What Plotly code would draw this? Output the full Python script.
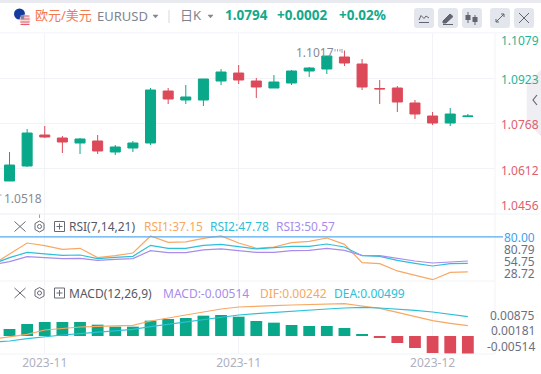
import plotly.graph_objects as go
from plotly.subplots import make_subplots

W, H = 541, 374
GREEN, RED = "#0aa88a", "#dc4a5a"
GRID = "#f2f3f7"
FONT = "Noto Sans, Noto Sans CJK SC, sans-serif"

# ---------- data ----------
idx = list(range(27))
idx_ext = [-1] + idx
open_ = [1.05699,1.06216,1.07285,1.07182,1.07010,1.07079,1.06699,1.06837,1.07010,1.08804,1.08493,1.08493,1.09149,1.09424,1.09149,1.08907,1.09080,1.09494,1.09563,1.09977,1.09735,1.08890,1.08907,1.08390,1.07941,1.07700,1.07920]
high  = [1.06699,1.07492,1.07596,1.07251,1.07182,1.07285,1.06941,1.07079,1.08907,1.08907,1.09011,1.09218,1.09563,1.09701,1.09252,1.09355,1.09528,1.09632,1.10011,1.10200,1.09908,1.09183,1.08976,1.08493,1.08079,1.08217,1.08010]
low   = [1.05699,1.06182,1.07182,1.06665,1.06630,1.06630,1.06595,1.06699,1.06941,1.08355,1.08355,1.08286,1.09011,1.09045,1.08562,1.08907,1.09011,1.09286,1.09390,1.09666,1.08838,1.08355,1.08079,1.07838,1.07631,1.07596,1.07920]
close = [1.06250,1.07354,1.07216,1.07044,1.07148,1.06734,1.06872,1.07010,1.08838,1.08528,1.08597,1.09218,1.09459,1.09183,1.08942,1.09114,1.09494,1.09597,1.10011,1.09770,1.08942,1.08876,1.08424,1.08010,1.07700,1.08010,1.07940]

rsi1 = [45.7,58.7,72.6,69.4,64.9,66.1,54.7,57.1,60.4,81.2,73.4,73.9,78.3,81.2,72.6,66.1,67.7,73.0,74.7,78.7,71.0,48.6,47.3,38.4,32.6,27.7,36.7,37.15]
rsi2 = [46.5,54.7,61.2,59.2,57.5,57.9,53.5,55.1,56.3,69.8,66.1,66.1,69.8,71.0,67.7,65.3,66.9,68.5,68.5,71.4,67.7,57.1,56.3,51.4,47.7,44.5,47.3,47.78]
rsi3 = [45.7,49.8,55.9,54.7,53.5,53.9,51.4,52.6,53.5,63.3,60.8,60.8,64.1,65.3,62.8,61.2,61.2,63.3,63.6,66.1,63.6,57.5,57.1,53.5,50.6,48.1,49.8,50.57]

macd = [.0020,.00343,.0040,.0040,.0040,.00324,.00267,.00267,.00438,.00486,.00514,.00581,.0060,.00552,.00428,.00381,.00314,.00286,.00286,.00229,.00057,-.00057,-.0020,-.00343,-.00486,-.00505,-.00514]
dif = [-.00095,-.00029,.00048,.00171,.00219,.00257,.00276,.00286,.00305,.00428,.00514,.00581,.00676,.00771,.00828,.00838,.00866,.00885,.00904,.00923,.00923,.00857,.0079,.00676,.00552,.00438,.00362,.00295]
dea = [-.00171,-.00143,-.00076,-.00019,.00029,.00067,.00105,.00143,.0019,.00267,.00333,.0039,.00457,.00533,.006,.00638,.00676,.00705,.00733,.00771,.008,.00819,.008,.00771,.00733,.00686,.00619,.00552]

month_ticks = [2, 13, 24]
month_labels = ["2023-11", "2023-11", "2023-12"]
price_grid = [1.0456, 1.0612, 1.0768, 1.0923, 1.1079]
price_labels = [("1.1079", 40.5, "#1fb596"), ("1.0923", 79.5, "#1fb596"), ("1.0768", 124, "#e0606e"), ("1.0612", 170.5, "#e0606e"), ("1.0456", 205.5, "#e0606e")]
rsi_labels = [("80.00", 237, "#3f9ff0"), ("80.79", 249, "#6b7080"), ("54.75", 261, "#6b7080"), ("28.72", 273, "#6b7080")]
macd_labels = [("0.00875", 315), ("0.00181", 330), ("-0.00514", 346)]

# ---------- figure ----------
fig = make_subplots(rows=3, cols=1, shared_xaxes=True)
fig.add_trace(go.Candlestick(x=idx, open=open_, high=high, low=low, close=close, whiskerwidth=0,
    increasing=dict(line=dict(color=GREEN, width=1), fillcolor=GREEN),
    decreasing=dict(line=dict(color=RED, width=1), fillcolor=RED), hoverinfo="skip"), row=1, col=1)
for s, c in ((rsi1, "#f8a862"), (rsi2, "#2cc0d8"), (rsi3, "#a88cec")):
    fig.add_trace(go.Scatter(x=idx_ext, y=s, mode="lines", line=dict(color=c, width=1.2), hoverinfo="skip"), row=2, col=1)
fig.add_trace(go.Bar(x=idx, y=macd, width=0.67, marker=dict(color=[GREEN if v >= 0 else RED for v in macd], line=dict(width=0)), hoverinfo="skip"), row=3, col=1)
for s, c in ((dif, "#f8a862"), (dea, "#2cc0d8")):
    fig.add_trace(go.Scatter(x=idx_ext, y=s, mode="lines", line=dict(color=c, width=1.2), hoverinfo="skip"), row=3, col=1)

def fx(x): return x / W
def fy(y): return 1 - y / H

PLOT_R = 495
xcommon = dict(range=[-0.539, 27.54], domain=[0, fx(PLOT_R)], tickmode="array", tickvals=month_ticks,
               showgrid=True, gridcolor=GRID, gridwidth=1, zeroline=False, showline=False, ticks="")
fig.update_xaxes(showticklabels=False, rangeslider_visible=False, **xcommon)
fig.update_xaxes(row=3, col=1, showticklabels=True, ticktext=month_labels,
                 tickfont=dict(family=FONT, size=12, color="#aeb1bf"), ticklabelstandoff=0)
fig.update_yaxes(row=1, col=1, domain=[fy(214), fy(33)], range=[1.0456, 1.10805], tickmode="array", tickvals=price_grid,
                 showticklabels=False, showgrid=True, gridcolor=GRID, zeroline=False, showline=False)
fig.update_yaxes(row=2, col=1, domain=[fy(281), fy(214)], range=[26.1, 108.1], showticklabels=False, showgrid=False, zeroline=False, showline=False)
fig.update_yaxes(row=3, col=1, domain=[fy(354), fy(281)], range=[-0.00514, 0.01571], showticklabels=False, showgrid=False, zeroline=False, showline=False)

shapes, ann = [], []
def rect(x0, y0, x1, y1, fill, r=0, line=None):
    if r:
        p = (f"M{fx(x0+r)},{fy(y0)} L{fx(x1-r)},{fy(y0)} Q{fx(x1)},{fy(y0)} {fx(x1)},{fy(y0+r)} L{fx(x1)},{fy(y1-r)} "
             f"Q{fx(x1)},{fy(y1)} {fx(x1-r)},{fy(y1)} L{fx(x0+r)},{fy(y1)} Q{fx(x0)},{fy(y1)} {fx(x0)},{fy(y1-r)} "
             f"L{fx(x0)},{fy(y0+r)} Q{fx(x0)},{fy(y0)} {fx(x0+r)},{fy(y0)} Z")
        shapes.append(dict(type="path", path=p, xref="paper", yref="paper", fillcolor=fill, line=dict(width=0)))
    else:
        shapes.append(dict(type="rect", xref="paper", yref="paper", x0=fx(x0), x1=fx(x1), y0=fy(y0), y1=fy(y1),
                           fillcolor=fill, line=dict(width=1, color=line) if line else dict(width=0)))
def seg(pts, color, w=1.2, fill=None, close=False):
    p = "M" + " L".join(f"{fx(a)},{fy(b)}" for a, b in pts) + (" Z" if close else "")
    shapes.append(dict(type="path", path=p, xref="paper", yref="paper", fillcolor=fill or "rgba(0,0,0,0)",
                       line=dict(color=color, width=w)))
def circ(cx, cy, r, fill=None, color=None, w=1):
    shapes.append(dict(type="circle", xref="paper", yref="paper", x0=fx(cx-r), x1=fx(cx+r), y0=fy(cy+r), y1=fy(cy-r),
                       fillcolor=fill or "rgba(0,0,0,0)", line=dict(color=color, width=w) if color else dict(width=0)))
def text(x, y, s, color, size=12, anchor="left", bold=False, height=None):
    a = dict(xref="paper", yref="paper", x=fx(x), y=fy(y), text=f"<b>{s}</b>" if bold else s, showarrow=False,
             xanchor=anchor, yanchor="middle", align=anchor, borderpad=0,
             font=dict(family=FONT, size=size, color=color))
    if height:
        a["height"] = height
    ann.append(a)

# frame
rect(0, 0, W, 3, "#e8eaf0")
rect(0, 32, W, 33.5, "#f6f7fa")
for y in (214, 281, 354):
    seg([(0, y), (PLOT_R, y)], GRID, 1)
seg([(PLOT_R, 33), (PLOT_R, 354)], GRID, 1)
seg([(0, 214), (540, 214)], GRID, 1)

# header
circ(19.5, 14, 5.5, "#143b9e")
circ(25, 20, 5.5, "#f7d9dc")
for y in (16, 19, 22, 24.5):
    seg([(20.5, y), (29.5, y)], "#e2606c", 1)
seg([(21, 15.5), (24, 15.5), (24, 19), (21, 19)], "#8a90a8", 0.5, "#7f86a0", True)
text(34, 15, "欧元/美元", "#f5794f", 13)
text(96, 16.5, "EURUSD", "#80848f", 13)
seg([(153, 15), (158, 15), (155.5, 18)], "#80848f", 0.5, "#80848f", True)
seg([(169, 10), (169, 23)], "#d5d8e0", 1)
text(178.5, 15, "日K", "#80848f", 13)
seg([(208, 15), (213, 15), (210.5, 18)], "#80848f", 0.5, "#80848f", True)
text(224, 15, "1.0794", "#13a98c", 13.5, bold=True)
text(276, 15, "+0.0002", "#13a98c", 13.5, bold=True)
text(338, 15, "+0.02%", "#13a98c", 13.5, bold=True)

# toolbar
for x0 in (414, 438, 462, 490, 514):
    rect(x0, 8, x0 + 20, 28, "#e4e6ee", r=3)
ICON = "#62656f"
seg([(419, 20), (421, 15.5), (424, 18.5), (426, 16), (429, 18)], ICON, 1)
seg([(419, 22.5), (429, 22.5)], ICON, 1)
seg([(443, 21), (450, 14), (453, 16.5), (446, 23), (443, 23)], ICON, 1, ICON, True)
seg([(443, 24.5), (453, 24.5)], ICON, 1)
for xc, a, b, c, d in ((468, 12, 15, 20, 23), (475, 15, 17, 22, 25)):
    seg([(xc, a), (xc, d)], ICON, 1)
    rect(xc - 2.5, b, xc + 2.5, c, ICON)
seg([(496, 22), (504, 14)], ICON, 1)
seg([(501, 14), (504, 14), (504, 17)], ICON, 1)
seg([(496, 19), (496, 22), (499, 22)], ICON, 1)
seg([(519, 13), (529, 23)], ICON, 1)
seg([(529, 13), (519, 23)], ICON, 1)

# side handle
seg([(541, 70), (527, 85), (527, 122), (541, 136)], "#eeeef3", 0.5, "#eeeef3", True)
seg([(537, 95), (533, 100), (537, 105)], "#666a75", 1.2)

# price panel
for s, y, c in price_labels:
    text(500, y, s, c, 12)
text(295, 52.5, "1.1017", "#868a96", 12)
for x in (335, 337.5, 340, 342):
    seg([(x, 49), (x, 51.5 if x != 342 else 53)], "#868a96", 0.8)
text(3, 198.5, "1.0518", "#868a96", 12)
seg([(0, 195), (1.5, 195)], "#868a96", 0.8)
seg([(39.5, 218), (39.5, 214.5)], "#868a96", 0.8)

# indicator rows
def row_icons(yc):
    seg([(14.5, yc - 5), (25.5, yc + 5)], "#666a75", 1)
    seg([(25.5, yc - 5), (14.5, yc + 5)], "#666a75", 1)
    hexr = [(39.5, yc - 5.5), (44, yc - 3), (44, yc + 3), (39.5, yc + 5.5), (35, yc + 3), (35, yc - 3)]
    seg(hexr, "#666a75", 1, None, True)
    circ(39.5, yc, 2, None, "#666a75", 1)
    seg([(54.5, yc - 5), (64.5, yc - 5), (64.5, yc + 5), (54.5, yc + 5)], "#666a75", 1, None, True)
    seg([(56.5, yc), (62.5, yc)], "#666a75", 1)
    seg([(59.5, yc - 3), (59.5, yc + 3)], "#666a75", 1)
row_icons(226.5)
text(68, 226.5, "RSI(7,14,21)", "#555965", 12)
text(143, 226.5, "RSI1:37.15", "#f8a862", 12)
text(209, 226.5, "RSI2:47.78", "#2cc0d8", 12)
text(275, 226.5, "RSI3:50.57", "#a88cec", 12)
row_icons(293)
text(68, 293, "MACD(12,26,9)", "#555965", 12)
text(162, 293, "MACD:-0.00514", "#a88cec", 12)
text(259, 293, "DIF:0.00242", "#f8a862", 12)
text(333, 293, "DEA:0.00499", "#2cc0d8", 12)

shapes.append(dict(type="line", xref="paper", yref="y2", x0=0, x1=fx(503), y0=80, y1=80, line=dict(color="#55aaf0", width=1.2)))
for s, y, c in rsi_labels:
    text(536, y, s, c, 12, "right", height=12)
for s, y in macd_labels:
    text(536, y, s, "#6b7080", 12, "right")

fig.update_layout(width=W, height=H, margin=dict(l=0, r=0, t=0, b=0), paper_bgcolor="white", plot_bgcolor="white",
                  showlegend=False, boxgap=0.43, boxgroupgap=0, shapes=shapes, annotations=ann, barmode="overlay",
                  font=dict(family=FONT))
fig.write_html("out.html", config=dict(displayModeBar=False),
               post_script="document.body.style.margin='0';document.body.style.overflow='hidden';")
